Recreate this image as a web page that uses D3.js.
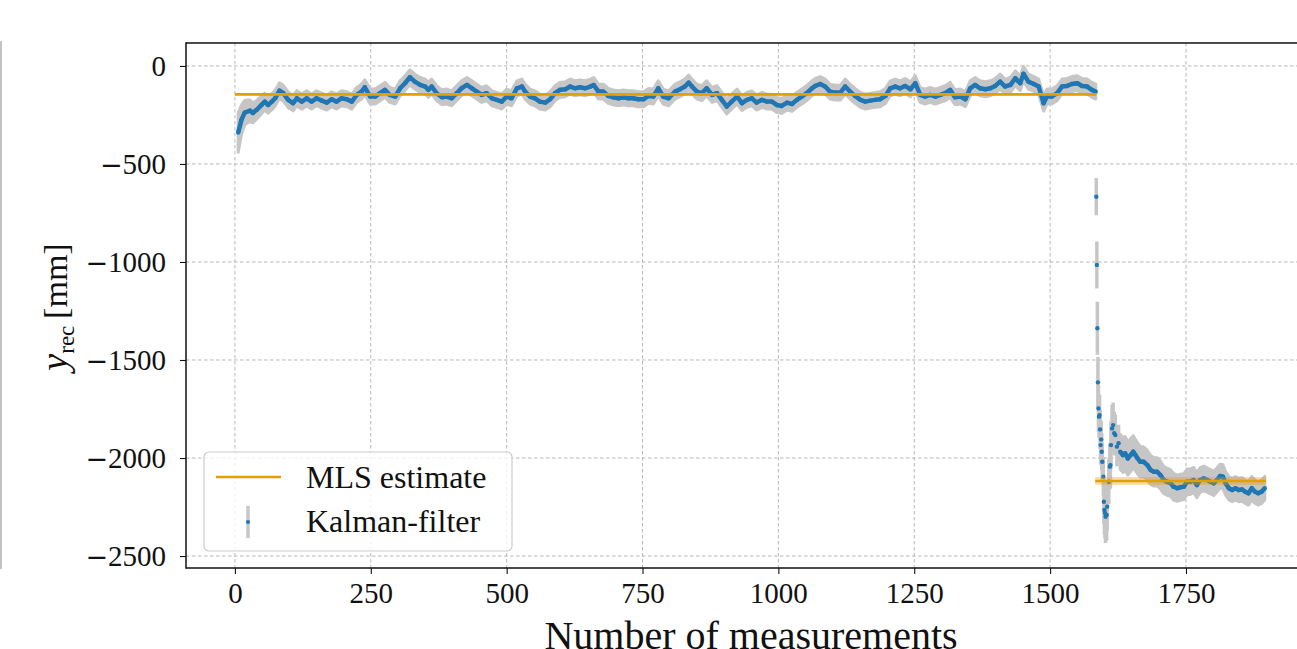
<!DOCTYPE html>
<html>
<head>
<meta charset="utf-8">
<script src="https://cdn.jsdelivr.net/npm/d3@7"></script>
<style>
  body { margin: 0; background: #fff; }
  svg { display: block; }
  text { font-family: "Liberation Serif", "DejaVu Serif", serif; fill: #111; }
</style>
</head>
<body>
<div id="chart"></div>
<script>
// ticks
var xTicks = [0, 250, 500, 750, 1000, 1250, 1500, 1750]
var yTicks = [0, -500, -1000, -1500, -2000, -2500]
var xTickLabels = ["0", "250", "500", "750", "1000", "1250", "1500", "1750"]
var yTickLabels = ["0", "\u2212500", "\u22121000", "\u22121500", "\u22122000", "\u22122500"]

// Kalman filter, first plateau: [measurement, y_rec, error]
var kfPlateau = [
  [6,-340,100],[12,-275,75],[18,-238,62],[28,-228,55],[33,-240,50],[40,-224,48],[49,-199,45],[55,-182,43],
  [61,-199,42],[68,-182,41],[74,-165,40],[82,-126,40],[89,-139,40],[98,-173,40],[107,-190,39],[114,-165,39],
  [123,-182,39],[132,-165,39],[141,-182,38],[150,-165,38],[160,-177,38],[169,-187,38],[178,-170,38],[187,-182,38],
  [196,-165,38],[206,-170,38],[215,-182,38],[224,-148,38],[233,-131,38],[239,-109,38],[249,-156,38],[258,-156,38],
  [267,-139,38],[276,-122,38],[285,-148,38],[295,-156,38],[304,-114,38],[313,-88,38],[322,-58,38],[331,-80,38],
  [341,-97,38],[350,-105,38],[356,-122,38],[362,-105,38],[371,-139,38],[381,-160,38],[390,-156,38],[399,-165,38],
  [408,-139,38],[417,-114,38],[427,-97,38],[436,-114,38],[445,-131,38],[454,-148,38],[463,-139,38],[473,-165,38],
  [482,-173,38],[491,-182,38],[500,-156,38],[509,-165,38],[519,-114,38],[528,-105,38],[534,-131,38],[543,-156,38],
  [552,-165,38],[561,-182,38],[571,-187,38],[580,-170,38],[589,-139,38],[598,-122,38],[608,-119,38],[617,-105,38],
  [626,-114,38],[635,-109,38],[644,-114,38],[654,-105,38],[660,-97,38],[669,-131,38],[678,-131,38],[687,-153,38],
  [696,-160,38],[706,-165,38],[715,-160,38],[724,-165,38],[733,-165,38],[742,-170,38],[752,-170,38],[761,-153,38],
  [770,-156,38],[779,-114,38],[788,-156,38],[798,-165,38],[810,-131,38],[819,-119,38],[828,-105,38],[835,-85,38],
  [841,-105,38],[850,-131,38],[859,-139,38],[868,-114,38],[878,-148,38],[887,-139,38],[896,-173,38],[905,-207,38],
  [914,-182,38],[924,-156,38],[933,-190,38],[942,-173,38],[951,-165,38],[960,-187,38],[970,-173,38],[979,-182,38],
  [988,-182,38],[997,-199,38],[1006,-204,38],[1016,-187,38],[1025,-194,38],[1034,-173,38],[1043,-156,38],[1052,-139,38],
  [1062,-114,38],[1068,-102,38],[1077,-92,38],[1086,-105,38],[1095,-131,38],[1105,-136,38],[1114,-136,38],[1123,-105,38],
  [1132,-131,38],[1141,-153,38],[1151,-173,38],[1160,-182,38],[1169,-177,38],[1178,-173,38],[1187,-170,38],[1197,-153,38],
  [1206,-114,38],[1215,-105,38],[1224,-114,38],[1233,-102,38],[1243,-119,38],[1252,-88,38],[1261,-148,38],[1270,-156,38],
  [1279,-148,38],[1289,-156,38],[1298,-148,38],[1307,-139,38],[1316,-122,38],[1325,-160,38],[1335,-156,38],[1344,-170,38],
  [1353,-114,38],[1362,-97,38],[1371,-114,38],[1381,-119,38],[1390,-114,38],[1399,-102,38],[1408,-80,38],[1417,-105,38],
  [1427,-97,38],[1436,-63,38],[1445,-88,38],[1451,-40,38],[1460,-80,38],[1470,-92,38],[1479,-105,38],[1488,-190,40],
  [1494,-156,38],[1503,-156,38],[1513,-139,38],[1522,-105,38],[1531,-102,38],[1540,-92,38],[1550,-88,38],[1559,-102,38],
  [1568,-105,38],[1577,-122,38],[1584,-131,38]
]

// Kalman filter, the jump after the displacement
var kfJump = [
  [1585,-667,95],[1586,-1015,120],[1587,-1338,135],[1588,-1614,130],[1589,-1747,120],[1590,-1789,110],
  [1591,-1781,105],[1592,-1854,100],[1593,-1934,100],[1594,-1905,95],[1595,-1968,95],[1596,-2019,95],
  [1598,-2095,100],[1599,-2223,115],[1600,-2265,125],[1601,-2280,130],[1602,-2299,135],[1604,-2291,130],
  [1605,-2248,125],[1608,-2121,115],[1610,-2044,115],[1611,-2036,115],[1612,-1934,120],[1614,-1849,120],
  [1616,-1832,115],[1618,-1874,110],[1620,-1883,105],[1623,-1942,100],[1626,-1925,95]
]

// Kalman filter, second plateau
var kfSettle = [
  [1629,-1968,90],[1634,-1985,88],[1638,-1976,86],[1643,-2002,85],[1648,-1985,84],[1653,-1968,82],
  [1657,-1985,80],[1661,-2002,79],[1666,-2019,78],[1672,-2019,76],[1679,-2036,75],[1685,-2061,74],
  [1691,-2070,73],[1697,-2070,72],[1703,-2087,71],[1709,-2112,70],[1715,-2121,69],[1721,-2126,68],
  [1727,-2146,68],[1734,-2154,67],[1740,-2149,66],[1746,-2146,66],[1752,-2121,65],[1758,-2121,65],
  [1764,-2112,64],[1770,-2138,64],[1776,-2112,63],[1783,-2104,63],[1789,-2112,62],[1795,-2121,62],
  [1801,-2129,62],[1807,-2112,61],[1813,-2092,61],[1818,-2095,61],[1823,-2129,60],[1829,-2154,60],
  [1835,-2163,60],[1841,-2154,60],[1847,-2163,60],[1853,-2160,60],[1859,-2172,60],[1865,-2180,60],
  [1871,-2154,60],[1877,-2172,60],[1883,-2180,60],[1889,-2172,60],[1895,-2154,60]
]

// MLS estimate, one level per segment
var mlsStart = [0, 1583]
var mlsEnd = [1585, 1897]
var mlsValue = [-145, -2117]
var mlsSigma = [6, 20]

function drawChart() {
    var W = 1297, H = 649
    var margin = {left: 186, top: 43, bottom: 568}

    var svg = d3.select("#chart").append("svg")
        .attr("width", W)
        .attr("height", H)

    var x = d3.scaleLinear().domain([-90, 1990]).range([margin.left, 1316.4])
    var y = d3.scaleLinear().domain([-2561, 117]).range([margin.bottom, margin.top])

    svg.append("clipPath").attr("id", "plotclip")
        .append("rect")
        .attr("x", margin.left).attr("y", margin.top)
        .attr("width", W - margin.left).attr("height", margin.bottom - margin.top)

    // stray edge of the neighbouring figure
    svg.append("line")
        .attr("x1", 1).attr("x2", 1).attr("y1", 41).attr("y2", 569)
        .attr("stroke", "#9a9a9a").attr("stroke-width", 1.2)

    // grid
    var grid = svg.append("g").attr("clip-path", "url(#plotclip)")
    grid.selectAll(".vg").data(xTicks).enter().append("line")
        .attr("x1", d => x(d)).attr("x2", d => x(d))
        .attr("y1", margin.top).attr("y2", margin.bottom)
        .attr("stroke", "#b0b0b0").attr("stroke-width", 0.9).attr("stroke-dasharray", "3.5,2.5")
    grid.selectAll(".hg").data(yTicks).enter().append("line")
        .attr("x1", margin.left).attr("x2", W)
        .attr("y1", d => y(d)).attr("y2", d => y(d))
        .attr("stroke", "#b0b0b0").attr("stroke-width", 0.9).attr("stroke-dasharray", "3.5,2.5")

    var plot = svg.append("g").attr("clip-path", "url(#plotclip)")

    var band = d3.area()
        .x(d => x(d[0]))
        .y0(d => y(d[1] - d[2]))
        .y1(d => y(d[1] + d[2]))
    var trace = d3.line()
        .x(d => x(d[0]))
        .y(d => y(d[1]))

    var grey = "#c6c6c6", blue = "#1f77b4", orange = "#e69f00"

    // continuous parts: error band
    ;[kfPlateau, kfSettle].forEach(function (seg) {
        plot.append("path").datum(seg)
            .attr("d", band)
            .attr("fill", grey)
            .attr("stroke", grey).attr("stroke-width", 3).attr("stroke-linejoin", "round")
    })
    // separate error bars in the jump
    plot.selectAll(".jbar").data(kfJump).enter().append("line")
        .attr("x1", d => x(d[0])).attr("x2", d => x(d[0]))
        .attr("y1", d => y(d[1] - d[2])).attr("y2", d => y(d[1] + d[2]))
        .attr("stroke", grey).attr("stroke-width", 3.5)

    ;[kfPlateau, kfSettle].forEach(function (seg) {
        plot.append("path").datum(seg)
            .attr("d", trace)
            .attr("fill", "none")
            .attr("stroke", blue).attr("stroke-width", 4.5).attr("stroke-linejoin", "round")
    })
    plot.selectAll(".dot").data(kfPlateau.concat(kfJump, kfSettle)).enter().append("circle")
        .attr("cx", d => x(d[0]))
        .attr("cy", d => y(d[1]))
        .attr("r", 2.2)
        .attr("fill", blue)

    // MLS
    mlsValue.forEach(function (v, i) {
        plot.append("rect")
            .attr("x", x(mlsStart[i])).attr("width", x(mlsEnd[i]) - x(mlsStart[i]))
            .attr("y", y(v + mlsSigma[i])).attr("height", y(v - mlsSigma[i]) - y(v + mlsSigma[i]))
            .attr("fill", orange).attr("fill-opacity", 0.35)
        plot.append("line")
            .attr("x1", x(mlsStart[i])).attr("x2", x(mlsEnd[i]))
            .attr("y1", y(v)).attr("y2", y(v))
            .attr("stroke", orange).attr("stroke-width", 2.6)
    })

    // axes
    var xAxis = d3.axisBottom(x).tickValues(xTicks)
        .tickFormat((d, i) => xTickLabels[i]).tickSize(6).tickPadding(8)
    var yAxis = d3.axisLeft(y).tickValues(yTicks)
        .tickFormat((d, i) => yTickLabels[i]).tickSize(6).tickPadding(14)

    var gx = svg.append("g").attr("transform", "translate(0," + margin.bottom + ")").call(xAxis)
    var gy = svg.append("g").attr("transform", "translate(" + margin.left + ",0)").call(yAxis)
    ;[gx, gy].forEach(function (g) {
        g.select(".domain").remove()
        g.selectAll(".tick line").attr("stroke", "#111").attr("stroke-width", 1.1)
        g.selectAll("text").attr("font-size", "29px").attr("font-family", "Liberation Serif").attr("fill", "#111")
    })
    // long thin minus, like the TeX one
    gy.selectAll(".tick text").each(function () {
        var t = d3.select(this), s = t.text()
        if (s.charAt(0) !== "\u2212") return
        t.text(null)
        t.append("tspan").attr("font-family", "DejaVu Sans").attr("font-size", "27px").text("\u2212")
        t.append("tspan").text(s.slice(1))
    })

    // spines
    svg.append("line").attr("x1", margin.left).attr("x2", margin.left)
        .attr("y1", margin.top - 0.7).attr("y2", margin.bottom + 0.7)
        .attr("stroke", "#111").attr("stroke-width", 1.5)
    svg.append("line").attr("x1", margin.left).attr("x2", W).attr("y1", margin.top).attr("y2", margin.top)
        .attr("stroke", "#111").attr("stroke-width", 1.5)
    svg.append("line").attr("x1", margin.left).attr("x2", W).attr("y1", margin.bottom).attr("y2", margin.bottom)
        .attr("stroke", "#111").attr("stroke-width", 1.5)

    // axis labels
    svg.append("text")
        .attr("x", 751).attr("y", 649)
        .attr("text-anchor", "middle")
        .attr("font-size", "40px")
        .text("Number of measurements")

    var ylab = svg.append("text")
        .attr("transform", "translate(67,307) rotate(-90)")
        .attr("text-anchor", "middle")
        .attr("font-size", "34px")
    ylab.append("tspan").attr("font-style", "italic").attr("font-size", "38px").text("y")
    ylab.append("tspan").attr("font-size", "23px").attr("dy", 7).text("rec")
    ylab.append("tspan").attr("dy", -7).text("\u2009[mm]")

    // legend
    var lg = svg.append("g")
    lg.append("rect")
        .attr("x", 204).attr("y", 452).attr("width", 308).attr("height", 99).attr("rx", 5)
        .attr("fill", "#fff").attr("fill-opacity", 0.8)
        .attr("stroke", "#cccccc").attr("stroke-width", 1.2)
    lg.append("line").attr("x1", 216).attr("x2", 281).attr("y1", 477).attr("y2", 477)
        .attr("stroke", orange).attr("stroke-width", 2.6)
    lg.append("line").attr("x1", 248).attr("x2", 248).attr("y1", 506).attr("y2", 538)
        .attr("stroke", grey).attr("stroke-width", 3.5)
    lg.append("circle").attr("cx", 248).attr("cy", 522).attr("r", 2.1).attr("fill", blue)
    lg.append("text").attr("x", 306).attr("y", 488).attr("font-size", "32px").text("MLS estimate")
    lg.append("text").attr("x", 306).attr("y", 532).attr("font-size", "32px").text("Kalman-filter")
}

drawChart()
</script>
</body>
</html>
